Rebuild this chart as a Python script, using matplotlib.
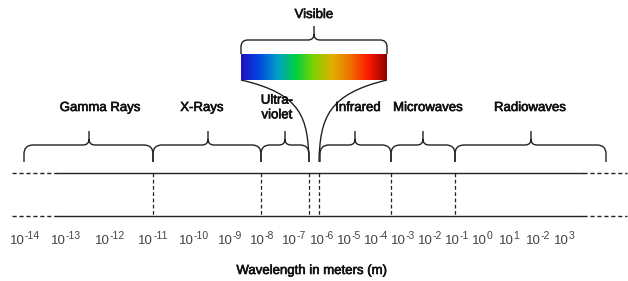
import matplotlib
matplotlib.use("Agg")
import matplotlib.pyplot as plt
import matplotlib.patheffects as pe
import numpy as np
from matplotlib.path import Path
from matplotlib.patches import PathPatch
from matplotlib.colors import LinearSegmentedColormap

plt.rcParams['font.family'] = ['Liberation Sans', 'DejaVu Sans']

# tick exponents shown under the axis (as in the original figure)
exponents = [-14, -13, -12, -11, -10, -9, -8, -7, -6, -5, -4, -3, -2, -1, 0, 1, -2, 3]
tick_x = [25, 66, 110, 153, 194, 230, 262, 294, 322, 349, 376, 403, 430, 457, 482, 509, 538, 564]

# bands: name, left edge, right edge, brace tip, label position
bands = ["Gamma Rays", "X-Rays", "Ultra-\nviolet", "Infrared", "Microwaves", "Radiowaves"]
band_left = [24, 153, 261, 320, 391, 455]
band_right = [153, 261, 309, 391, 455, 606]
band_tip = [89, 208, 285, 355, 423, 531]
label_x = [100, 202, 277, 358, 428, 530]

boundaries = [153, 261, 309, 319, 391, 455]

spectrum = ["#2010c0", "#0048e0", "#00a0c8", "#00d040", "#80d000",
            "#e0b000", "#f07000", "#ff1800", "#900000"]

ink = "#222222"
heavy = [pe.withStroke(linewidth=0.45, foreground='#111111')]


def brace(ax, x0, x1, xm, yb, yl, yt, r=9, rt=6):
    # curly brace opening downward, tip pointing up
    verts = [(x0, yb), (x0, yl + r), (x0, yl), (x0 + r, yl),
             (xm - rt, yl), (xm, yl), (xm, yl - rt), (xm, yt),
             (xm, yl - rt), (xm, yl), (xm + rt, yl),
             (x1 - r, yl), (x1, yl), (x1, yl + r), (x1, yb)]
    codes = [Path.MOVETO, Path.LINETO, Path.CURVE3, Path.CURVE3,
             Path.LINETO, Path.CURVE3, Path.CURVE3, Path.LINETO,
             Path.MOVETO, Path.CURVE3, Path.CURVE3,
             Path.LINETO, Path.CURVE3, Path.CURVE3, Path.LINETO]
    ax.add_patch(PathPatch(Path(verts, codes), fill=False, ec=ink, lw=1.0))


fig = plt.figure(figsize=(6.28, 2.81), dpi=100)
ax = fig.add_axes([0, 0, 1, 1])
ax.set_xlim(0, 628)
ax.set_ylim(281, 0)
ax.axis('off')

# axis lines
for y in (173, 216):
    ax.plot([12, 57], [y, y], color=ink, lw=1.0, ls=(0, (3, 2)))
    ax.plot([57, 583], [y, y], color=ink, lw=1.0)
    ax.plot([583, 627], [y, y], color=ink, lw=1.0, ls=(0, (3, 2)))

for x in boundaries:
    ax.plot([x, x], [173, 216], color=ink, lw=0.9, ls=(0, (3, 2)))

# band braces and labels
for name, a, b, t, lx in zip(bands, band_left, band_right, band_tip, label_x):
    brace(ax, a, b, t, 162, 145, 131)
    ax.text(lx, 108, name, ha='center', va='center', fontsize=9.5,
            color='#111111', linespacing=1.3, path_effects=heavy)

# visible band
cmap = LinearSegmentedColormap.from_list("vis", spectrum)
grad = np.linspace(0, 1, 256).reshape(1, -1)
ax.imshow(grad, cmap=cmap, extent=(241, 387, 80, 54), aspect='auto', zorder=2)
brace(ax, 241, 387, 314, 54, 40, 26, r=7, rt=6)
ax.text(314, 15, "Visible", ha='center', va='center', fontsize=9.5,
        color='#111111', path_effects=heavy)

left = Path([(241, 80), (302, 94), (308, 118), (309, 162)],
            [Path.MOVETO, Path.CURVE4, Path.CURVE4, Path.CURVE4])
right = Path([(387, 80), (328, 94), (320, 118), (319, 162)],
             [Path.MOVETO, Path.CURVE4, Path.CURVE4, Path.CURVE4])
for p in (left, right):
    ax.add_patch(PathPatch(p, fill=False, ec=ink, lw=1.0))

# tick labels: "10" plus a raised exponent, centred together on tick_x
renderer = fig.canvas.get_renderer()
px = 628 / fig.bbox.width
for e, x in zip(exponents, tick_x):
    base = ax.text(0, 0, "10", fontsize=9.5, color='#444444')
    sup = ax.text(0, 0, str(e), fontsize=7.5, color='#444444')
    wb = base.get_window_extent(renderer).width * px
    ws = sup.get_window_extent(renderer).width * px
    x0 = x - (wb + ws) / 2
    base.set_position((x0, 244))
    base.set_va('baseline')
    sup.set_position((x0 + wb, 239))
    sup.set_va('baseline')

ax.text(312, 271, "Wavelength in meters (m)", ha='center', va='center',
        fontsize=9.5, color='#111111', path_effects=heavy)

fig.savefig("out.png", dpi=100)
